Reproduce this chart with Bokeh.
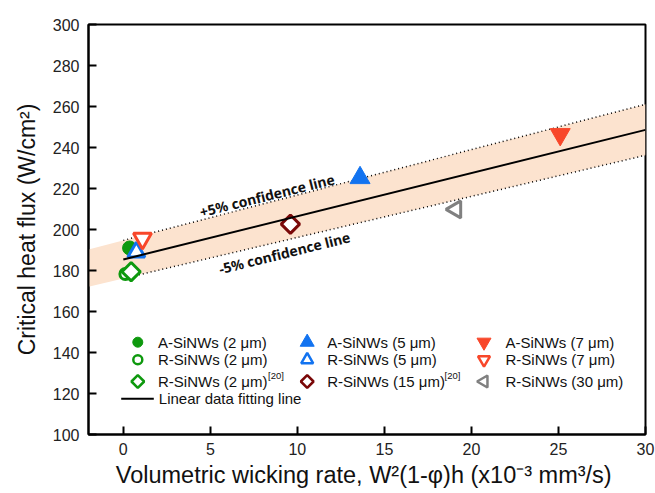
from bokeh.plotting import figure
from bokeh.models import FixedTicker, Range1d
from bokeh.core.properties import value
from bokeh.embed import file_html
from bokeh.resources import INLINE
import math

# ---------------- data ----------------
x_ticks = [0, 5, 10, 15, 20, 25, 30]
y_ticks = [100, 120, 140, 160, 180, 200, 220, 240, 260, 280, 300]

# fitted line and +/-5 % confidence band
fit_x = [0, 30]
fit_y = [185.4, 248.6]
band_x = [-2, 30]
band_upper = [190.3, 261.1]
band_lower = [172.1, 236.2]
conf_x = [0, 30]
conf_upper = [194.7, 261.1]
conf_lower = [176.1, 236.2]

# measured points
a2_x, a2_y = [0.36], [191.0]        # A-SiNWs (2 um)
r2_x, r2_y = [0.12], [178.3]        # R-SiNWs (2 um)
r2ref_x, r2ref_y = [0.45], [179.4]  # R-SiNWs (2 um)[20]
a5_x, a5_y = [13.6], [225.2]        # A-SiNWs (5 um)
r5_x, r5_y = [0.75], [189.0]        # R-SiNWs (5 um)
a7_x, a7_y = [25.1], [246.4]        # A-SiNWs (7 um)
r7_x, r7_y = [1.1], [195.6]         # R-SiNWs (7 um)
r15_x, r15_y = [9.6], [202.6]       # R-SiNWs (15 um)[20]
r30_x, r30_y = [19.1], [209.8]      # R-SiNWs (30 um)

legend_labels = [
    ["A-SiNWs (2 μm)", "R-SiNWs (2 μm)", "R-SiNWs (2 μm)"],
    ["A-SiNWs (5 μm)", "R-SiNWs (5 μm)", "R-SiNWs (15 μm)"],
    ["A-SiNWs (7 μm)", "R-SiNWs (7 μm)", "R-SiNWs (30 μm)"],
]
fit_label = "Linear data fitting line"
ref_mark = "[20]"

# ---------------- layout / style ----------------
W, H = 655, 493
FL, FR, FT, FB = 88, 645, 24, 434
XMIN, XMAX, YMIN, YMAX = -2, 30, 100, 300

def dx(px):
    return XMIN + (px - FL) / (FR - FL) * (XMAX - XMIN)

def dy(py):
    return YMAX - (py - FT) / (FB - FT) * (YMAX - YMIN)

GREEN = "#0E990E"
BLUE = "#1273F0"
RED = "#F8472A"
DRED = "#7A0808"
GRAY = "#808080"
BAND = "#FCE3CF"
FONT = "Liberation Sans"

p = figure(width=W, height=H, output_backend="svg", toolbar_location=None,
           x_range=Range1d(XMIN, XMAX), y_range=Range1d(YMIN, YMAX),
           min_border_left=FL, min_border_right=W - FR,
           min_border_top=FT, min_border_bottom=H - FB)
p.background_fill_color = "white"
p.border_fill_color = "white"
p.outline_line_color = "black"
p.outline_line_width = 2
p.grid.visible = False

for ax in (p.xaxis[0], p.yaxis[0]):
    ax.axis_line_width = 2
    ax.major_tick_line_width = 2
    ax.major_tick_in = 8
    ax.major_tick_out = 0
    ax.minor_tick_line_color = None
    ax.major_label_text_font = FONT
    ax.major_label_text_font_size = "16px"
    ax.major_label_text_color = "#222222"
    ax.axis_label_text_font = FONT
    ax.axis_label_text_font_style = "normal"
    ax.axis_label_text_color = "#111111"

p.xaxis.axis_label_text_font_size = "23.5px"
p.yaxis.axis_label_text_font_size = "23px"
p.xaxis.ticker = FixedTicker(ticks=x_ticks)
p.yaxis.ticker = FixedTicker(ticks=y_ticks)
p.xaxis.major_label_standoff = 8
p.yaxis.major_label_standoff = 9
p.xaxis.axis_label = "Volumetric wicking rate,  W²(1-φ)h (x10⁻³ mm³/s)"
p.yaxis.axis_label = "Critical heat flux (W/cm²)"
p.xaxis.axis_label_standoff = 4
p.yaxis.axis_label_standoff = 10

# band, confidence lines, fit
p.varea(x=band_x, y1=band_lower, y2=band_upper, fill_color=BAND)
p.line(conf_x, conf_upper, line_color="black", line_width=1.5, line_dash="1 3")
p.line(conf_x, conf_lower, line_color="black", line_width=1.5, line_dash="1 3")

ang = math.atan(((fit_y[1] - fit_y[0]) / (YMAX - YMIN) * (FB - FT)) /
                ((fit_x[1] - fit_x[0]) / (XMAX - XMIN) * (FR - FL)))
p.text(x=[8.26], y=[216.6], text=["+5% confidence line"], angle=ang,
       text_align="center", text_baseline="middle",
       text_font=value("Noto Sans"), text_font_style="bold",
       text_font_size="14px", text_color="#111111")
p.text(x=[9.26], y=[188.6], text=["-5% confidence line"], angle=ang,
       text_align="center", text_baseline="middle",
       text_font=value("Noto Sans"), text_font_style="bold",
       text_font_size="14px", text_color="#111111")

# markers
p.scatter(r2_x, r2_y, marker="circle", size=11, fill_color="white",
          line_color=GREEN, line_width=3)
p.scatter(r2ref_x, r2ref_y, marker="square", size=13, angle=math.pi / 4,
          fill_color="white", line_color=GREEN, line_width=3)
p.scatter(a2_x, a2_y, marker="circle", size=14, fill_color=GREEN, line_color=GREEN)
p.scatter(r5_x, r5_y, marker="triangle", size=17, fill_color="white",
          line_color=BLUE, line_width=3)
p.scatter(r7_x, r7_y, marker="inverted_triangle", size=18, fill_color="white",
          line_color=RED, line_width=3)
p.scatter(a5_x, a5_y, marker="triangle", size=20, fill_color=BLUE, line_color=BLUE)
p.scatter(a7_x, a7_y, marker="inverted_triangle", size=20, fill_color=RED, line_color=RED)
p.scatter(r15_x, r15_y, marker="square", size=13, angle=math.pi / 4,
          fill_color="white", line_color=DRED, line_width=3)
p.scatter(r30_x, r30_y, marker="triangle", size=17, angle=math.pi / 2,
          fill_color="white", line_color=GRAY, line_width=3)

p.line(fit_x, fit_y, line_color="black", line_width=2)

# ---------------- legend (drawn by hand) ----------------
row_py = [341.7, 359.3, 381.0]
mark_px = [137.3, 306.7, 483.5]
text_px = [157.5, 326.7, 505.0]
leg_styles = [
    [dict(marker="circle", size=10, fill_color=GREEN, line_color=GREEN, line_width=1),
     dict(marker="circle", size=9, fill_color="white", line_color=GREEN, line_width=2.5),
     dict(marker="square", size=9, angle=math.pi / 4, fill_color="white", line_color=GREEN, line_width=2.5)],
    [dict(marker="triangle", size=14, fill_color=BLUE, line_color=BLUE, line_width=1),
     dict(marker="triangle", size=12, fill_color="white", line_color=BLUE, line_width=2.5),
     dict(marker="square", size=9, angle=math.pi / 4, fill_color="white", line_color=DRED, line_width=2.5)],
    [dict(marker="inverted_triangle", size=14, fill_color=RED, line_color=RED, line_width=1),
     dict(marker="inverted_triangle", size=12, fill_color="white", line_color=RED, line_width=2.5),
     dict(marker="triangle", size=12, angle=math.pi / 2, fill_color="white", line_color=GRAY, line_width=2.5)],
]
for c in range(3):
    for r in range(3):
        p.scatter([dx(mark_px[c])], [dy(row_py[r])], **leg_styles[c][r])
        p.text(x=[dx(text_px[c])], y=[dy(row_py[r])], text=[legend_labels[c][r]],
               text_align="left", text_baseline="middle", text_font=value(FONT),
               text_font_size="15px", text_color="#111111")

for sx in (267.5, 444.0):
    p.text(x=[dx(sx)], y=[dy(375.0)], text=[ref_mark], text_align="left",
           text_baseline="middle", text_font=value(FONT), text_font_size="9.5px",
           text_color="#111111")

p.line([dx(120.7), dx(153.3)], [dy(398.3), dy(398.3)], line_color="black", line_width=2)
p.text(x=[dx(158.3)], y=[dy(398.3)], text=[fit_label], text_align="left",
       text_baseline="middle", text_font=value(FONT), text_font_size="15px",
       text_color="#111111")

open("out.html", "w").write(file_html(p, INLINE))
